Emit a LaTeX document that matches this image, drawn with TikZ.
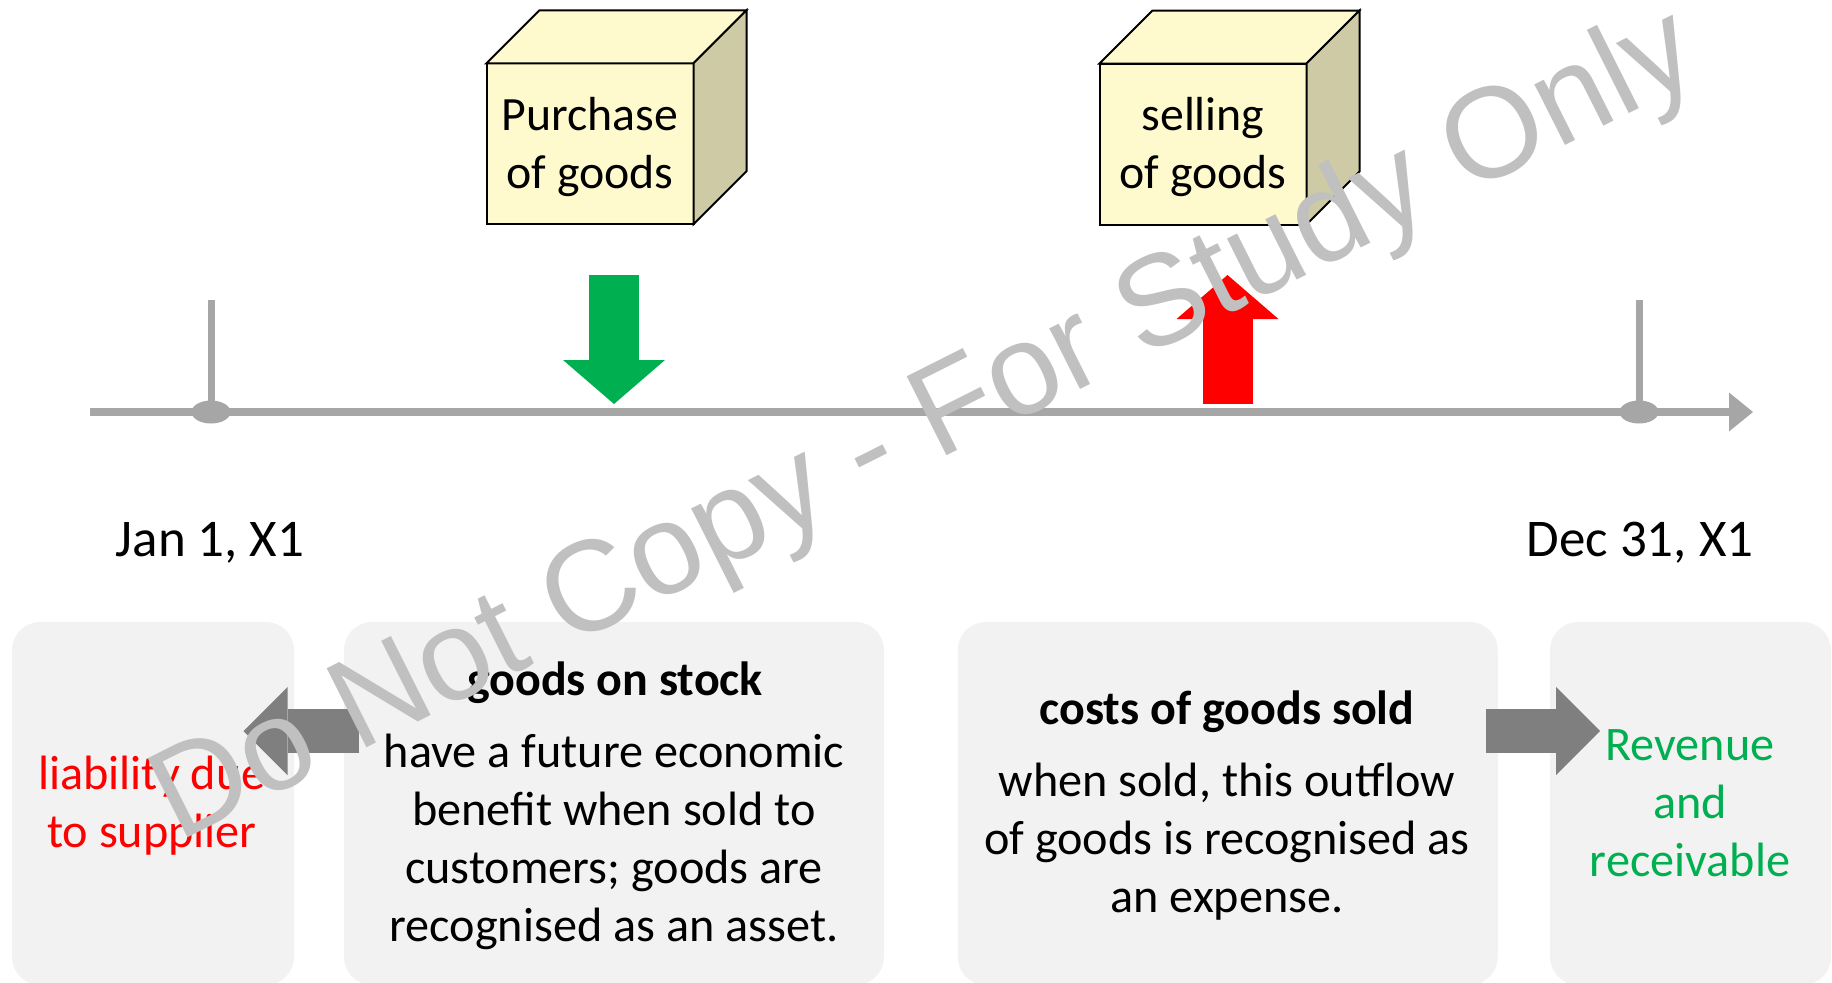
\documentclass[tikz,border=0pt]{standalone}
\usepackage{fontspec}
\setmainfont{Carlito}
\newfontfamily\markfont{Liberation Sans}
\usetikzlibrary{arrows.meta,shapes.geometric}
\definecolor{boxfront}{HTML}{FFFACD}
\definecolor{boxside}{HTML}{CDCAA5}
\definecolor{axisgray}{HTML}{A6A6A6}
\definecolor{panelgray}{HTML}{F2F2F2}
\definecolor{blockgray}{HTML}{7F7F7F}
\definecolor{markgray}{HTML}{C0C0C0}
\definecolor{okgreen}{HTML}{00B050}
\begin{document}
\begin{tikzpicture}[x=0.5pt,y=-0.5pt,
  face/.style={draw,line width=1pt,fill=boxfront,minimum width=103.5pt,minimum height=80.5pt,
    inner sep=0pt,outer sep=0pt},
  axis/.style={draw=axisgray,line width=4pt},
  dot/.style={ellipse,fill=axisgray,minimum width=19.5pt,minimum height=11.5pt,inner sep=0pt},
  panel/.style={fill=panelgray,rounded corners=14pt,minimum height=181.5pt,inner sep=0pt},
  txt/.style={anchor=base,align=center,font=\fontsize{24.1}{29}\selectfont},
  head/.style={anchor=base,font=\bfseries\fontsize{24}{29}\selectfont},
  date/.style={anchor=base,font=\fontsize{26.5}{31}\selectfont},
  flat/.style={line width=22pt,draw=blockgray,-{Triangle[length=22pt,width=44pt,line width=0pt]}},
  updown/.style={line width=25pt,-{Triangle[length=22pt,width=51pt,line width=0pt]}}]
\useasboundingbox (0,0) rectangle (1832,982);

% time axis with the two year ends
\coordinate (t0) at (90,412);
\coordinate (t1) at (1753,412);
\draw[axis,-{Triangle[length=12pt,width=19.5pt,line width=0pt]}] (t0) -- (t1);
\foreach \d/\x in {jan/211,dec/1639} {
  \node[dot] (\d) at (\x,412) {};
  \draw[axis,line width=3.5pt] (\d.center) -- ++(0,-112);
}
\node[date] (jan text) at (210,556) {Jan 1, X1};
\node[date] (dec text) at (1640,556) {Dec 31, X1};

% the two boxes of goods
\node[face] (buy) at (590,143.8) {};
\node[face] (sell) at (1203,144) {};
\foreach \c in {buy,sell} {
  \draw[line width=1pt,fill=boxfront] (\c.north west) -- ++(53,-53) -- ++(207,0) -- (\c.north east) -- cycle;
  \draw[line width=1pt,fill=boxside] (\c.north east) -- ++(53,-53) -- ++(0,161) -- (\c.south east) -- cycle;
}
\node[txt,font=\fontsize{23.9}{29}\selectfont] (buy text) at (590,188) {Purchase\\of goods};
\node[txt,font=\fontsize{23.9}{29}\selectfont] (sell text) at (1203,188) {selling\\of goods};

% in and out of stock
\coordinate (buy top) at (614,275);
\coordinate (buy tip) at (614,404);
\draw[updown,draw=okgreen] (buy top) -- (buy tip);
\coordinate (sell foot) at (1227.5,404);
\coordinate (sell tip) at (1227.5,275);
\draw[updown,draw=red] (sell foot) -- (sell tip);

% panels below the axis
\node[panel,minimum width=141pt] (owed) at (153,803.5) {};
\node[panel,minimum width=270pt] (stock) at (614,803.5) {};
\node[panel,minimum width=270pt] (cogs) at (1227.75,803.5) {};
\node[panel,minimum width=140.5pt] (revenue) at (1690.5,803.5) {};

\coordinate (back from) at (359,731);
\coordinate (back to) at (243.5,731);
\draw[flat] (back from) -- (back to);
\coordinate (on from) at (1485.5,731);
\coordinate (on to) at (1600,731);
\draw[flat] (on from) -- (on to);

\node[txt,text=red] (owed text) at (152,847) {liability due\\to supplier};
\node[head] (stock head) at (615,695) {goods on stock};
\node[txt] (stock text) at (614,941) {have a future economic\\benefit when sold to\\customers; goods are\\recognised as an asset.};
\node[head] (cogs head) at (1227,724) {costs of goods sold};
\node[txt] (cogs text) at (1227,912) {when sold, this outflow\\of goods is recognised as\\an expense.};
\node[txt,text=okgreen] (revenue text) at (1690,876) {Revenue\\and\\receivable};

\node[anchor=base west,rotate=26.7,inner sep=0pt,text=markgray,font=\markfont\fontsize{64.3}{70}\selectfont] (mark) at (178,843) {Do Not Copy - For Study Only};
\end{tikzpicture}
\end{document}
